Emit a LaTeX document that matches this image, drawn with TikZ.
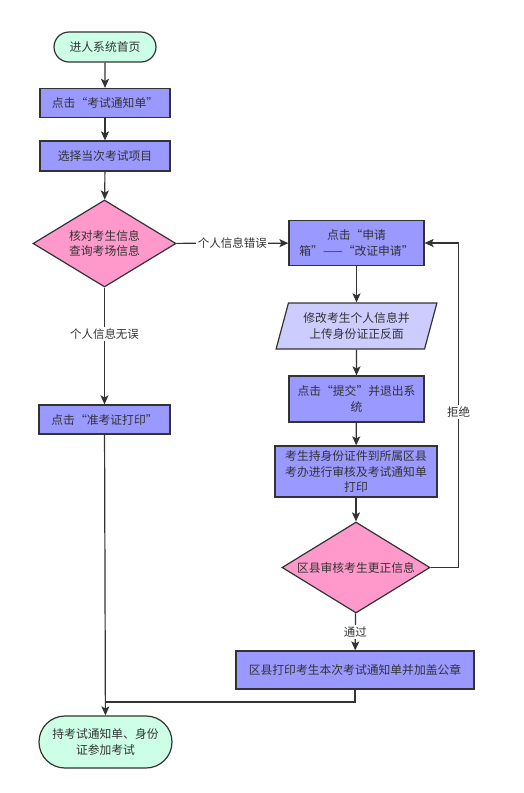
\documentclass[tikz,border=0pt]{standalone}
\usepackage{fontspec}
\setmainfont{Noto Sans CJK SC}
\usetikzlibrary{arrows.meta}
\usetikzlibrary{shapes,shapes.geometric,shapes.misc}
\definecolor{mint}{HTML}{CCFFE6}
\definecolor{boxblue}{HTML}{9999FF}
\definecolor{lilac}{HTML}{CCCCFF}
\definecolor{pinkd}{HTML}{FF99CC}
\definecolor{ink}{HTML}{333333}
\tikzset{
  lbl/.style={fill=white,inner sep=1.5pt,font=\fontsize{11.5}{14}\selectfont}
}

\begin{document}
\begin{tikzpicture}[x=1pt,y=-1pt,line width=1.2pt,font=\fontsize{11.8}{15.5}\selectfont,text=ink]
\useasboundingbox (0,0) rectangle (524,793);
\begin{scope}[every node/.style={rounded rectangle,draw=ink,fill=mint,align=center,inner sep=1pt}]
    \node[minimum width=104,minimum height=30] (S) at (105,47) {进人系统首页};
    \node[minimum width=135,minimum height=52] (E) at (105.5,742) {持考试通知单、身份\\证参加考试};
\end{scope}
\begin{scope}[every node/.style={rectangle,draw=ink,fill=boxblue,align=center,inner sep=1pt}]
    \node[minimum width=130,minimum height=29] (B1) at (105,103) {点击“考试通知单”};
    \node[minimum width=130,minimum height=30] (B2) at (105,156) {选择当次考试项目};
    \node[minimum width=135,minimum height=45] (B3) at (356.5,243) {点击“申请\\箱”——“改证申请”};
    \node[minimum width=135,minimum height=46] (B5) at (356.5,399) {点击“提交”并退出系\\统};
    \node[minimum width=162,minimum height=51] (B6) at (356,471.5) {考生持身份证件到所属区县\\考办进行审核及考试通知单\\打印};
    \node[minimum width=131,minimum height=29] (B7) at (104.5,419.5) {点击“准考证打印”};
    \node[minimum width=238,minimum height=38] (B8) at (355,670) {区县打印考生本次考试通知单并加盖公章};
\end{scope}
\begin{scope}[every node/.style={diamond,draw=ink,fill=pinkd,align=center,inner sep=0pt,aspect=1.6}]
    \node[minimum width=143,minimum height=87] (D1) at (104.5,243.5) {核对考生信息\\查询考场信息};
    \node[minimum width=148,minimum height=91] (D2) at (356,567.5) {区县审核考生更正信息};
\end{scope}
\node[trapezium,trapezium left angle=71,trapezium right angle=109,trapezium stretches=true,
      draw=ink,fill=lilac,align=center,inner sep=1pt,minimum width=161,minimum height=46] (P)
      at (356.5,326) {修改考生个人信息并\\上传身份证正反面};
\coordinate (M) at (105,702);
\begin{scope}[>={Stealth[length=9pt,width=8pt,inset=2pt]},
              every edge/.style={draw=ink}]
    \path [->] (S) edge (B1);
    \path [->] (B1) edge (B2);
    \path [->] (B2) edge (D1);
    \path [->] (D1) edge node[lbl] {个人信息错误} (B3);
    \path [->] (D1) edge node[lbl,pos=0.4] {个人信息无误} (B7);
    \path [->] (B3) edge (P);
    \path [->] (P) edge (B5);
    \path [->] (B5) edge (B6);
    \path [->] (B6) edge (D2);
    \path [->] (D2) edge node[lbl] {通过} (B8);
    \path [->] (B7) edge (E);
    \draw [ink] (B8.south) |- (M);
    \draw [->,ink] (D2.east) -- ++(28,0) |- node[lbl,pos=0.24] {拒绝} (B3.east);
\end{scope}
\end{tikzpicture}
\end{document}
